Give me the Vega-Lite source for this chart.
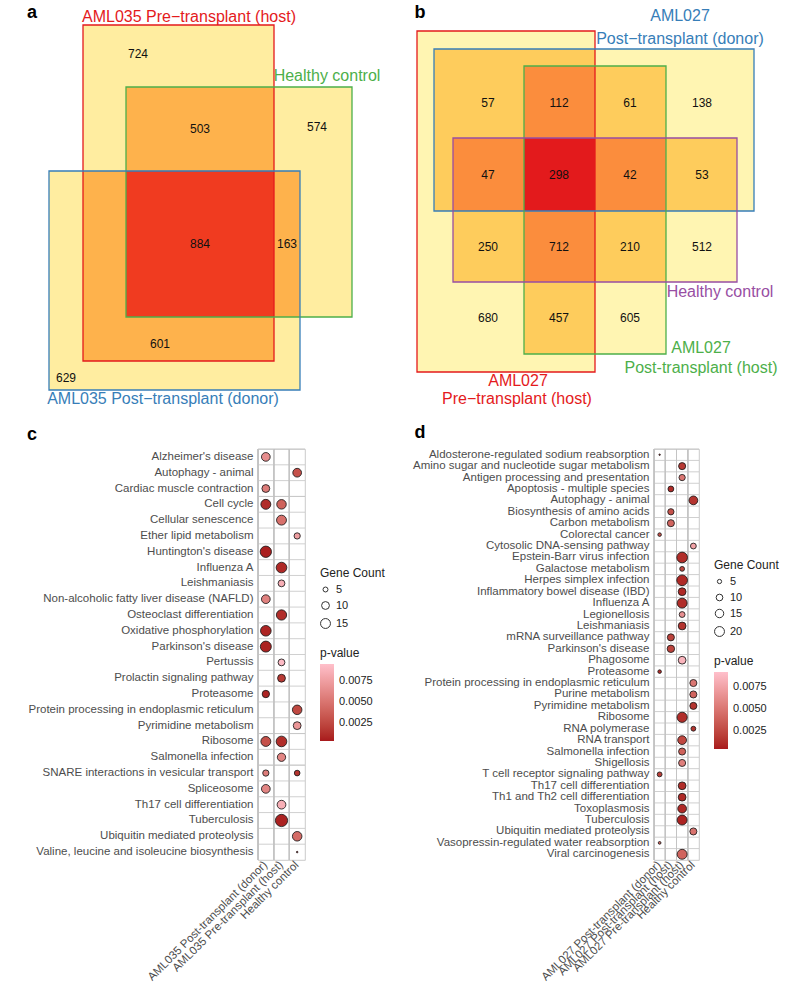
{
  "$schema": "https://vega.github.io/schema/vega-lite/v6.json",
  "background": "white",
  "padding": 0,
  "spacing": 0,
  "config": {"font": "Liberation Sans", "view": {"stroke": null}, "concat": {"spacing": 0}},
  "resolve": {
    "scale": {"color": "independent", "fill": "independent", "stroke": "independent", "size": "independent"},
    "legend": {"color": "independent", "fill": "independent", "stroke": "independent", "size": "independent"}
  },
  "datasets": {
    "venn_fill": [
      {"x1": 82, "x2": 273, "y1": 25, "y2": 361, "region": "a1"},
      {"x1": 125, "x2": 351, "y1": 87, "y2": 317, "region": "a1"},
      {"x1": 48, "x2": 299, "y1": 171, "y2": 390, "region": "a1"},
      {"x1": 125, "x2": 273, "y1": 87, "y2": 317, "region": "a2"},
      {"x1": 82, "x2": 273, "y1": 171, "y2": 361, "region": "a2"},
      {"x1": 125, "x2": 299, "y1": 171, "y2": 317, "region": "a2"},
      {"x1": 125, "x2": 273, "y1": 171, "y2": 317, "region": "a3"},
      {"x1": 416, "x2": 594, "y1": 31, "y2": 372, "region": "b1"},
      {"x1": 433, "x2": 753, "y1": 49, "y2": 211, "region": "b1"},
      {"x1": 523, "x2": 665, "y1": 66, "y2": 354, "region": "b1"},
      {"x1": 452, "x2": 736, "y1": 138, "y2": 282, "region": "b1"},
      {"x1": 433, "x2": 594, "y1": 49, "y2": 211, "region": "b2"},
      {"x1": 523, "x2": 594, "y1": 66, "y2": 354, "region": "b2"},
      {"x1": 452, "x2": 594, "y1": 138, "y2": 282, "region": "b2"},
      {"x1": 523, "x2": 665, "y1": 66, "y2": 211, "region": "b2"},
      {"x1": 452, "x2": 736, "y1": 138, "y2": 211, "region": "b2"},
      {"x1": 523, "x2": 665, "y1": 138, "y2": 282, "region": "b2"},
      {"x1": 523, "x2": 594, "y1": 66, "y2": 211, "region": "b3"},
      {"x1": 452, "x2": 594, "y1": 138, "y2": 211, "region": "b3"},
      {"x1": 523, "x2": 594, "y1": 138, "y2": 282, "region": "b3"},
      {"x1": 523, "x2": 665, "y1": 138, "y2": 211, "region": "b3"},
      {"x1": 523, "x2": 594, "y1": 138, "y2": 211, "region": "b4"}
    ],
    "venn_line": [
      {"x1": 82, "x2": 273, "y1": 25, "y2": 361, "set": "R"},
      {"x1": 125, "x2": 351, "y1": 87, "y2": 317, "set": "G"},
      {"x1": 48, "x2": 299, "y1": 171, "y2": 390, "set": "B"},
      {"x1": 416, "x2": 594, "y1": 31, "y2": 372, "set": "R"},
      {"x1": 433, "x2": 753, "y1": 49, "y2": 211, "set": "B"},
      {"x1": 523, "x2": 665, "y1": 66, "y2": 354, "set": "G"},
      {"x1": 452, "x2": 736, "y1": 138, "y2": 282, "set": "P"}
    ],
    "venn_num": [
      {"x": 137, "y": 54, "n": "724"},
      {"x": 199, "y": 129, "n": "503"},
      {"x": 316, "y": 127, "n": "574"},
      {"x": 199, "y": 244, "n": "884"},
      {"x": 286, "y": 244, "n": "163"},
      {"x": 159, "y": 344, "n": "601"},
      {"x": 65, "y": 378, "n": "629"},
      {"x": 487, "y": 103, "n": "57"},
      {"x": 558, "y": 103, "n": "112"},
      {"x": 629, "y": 103, "n": "61"},
      {"x": 701, "y": 103, "n": "138"},
      {"x": 487, "y": 175, "n": "47"},
      {"x": 558, "y": 175, "n": "298"},
      {"x": 629, "y": 175, "n": "42"},
      {"x": 701, "y": 175, "n": "53"},
      {"x": 487, "y": 247, "n": "250"},
      {"x": 558, "y": 247, "n": "712"},
      {"x": 629, "y": 247, "n": "210"},
      {"x": 701, "y": 247, "n": "512"},
      {"x": 487, "y": 318, "n": "680"},
      {"x": 558, "y": 318, "n": "457"},
      {"x": 629, "y": 318, "n": "605"}
    ],
    "venn_lab": [
      {"x": 188, "y": 17, "label": "AML035 Pre−transplant (host)", "set": "R"},
      {"x": 326, "y": 76, "label": "Healthy control", "set": "G"},
      {"x": 162, "y": 399, "label": "AML035 Post−transplant (donor)", "set": "B"},
      {"x": 679, "y": 16, "label": "AML027", "set": "B"},
      {"x": 679, "y": 39, "label": "Post−transplant (donor)", "set": "B"},
      {"x": 719, "y": 292, "label": "Healthy control", "set": "P"},
      {"x": 700, "y": 348, "label": "AML027", "set": "G"},
      {"x": 700, "y": 368, "label": "Post-transplant (host)", "set": "G"},
      {"x": 517, "y": 381, "label": "AML027", "set": "R"},
      {"x": 516, "y": 399, "label": "Pre−transplant (host)", "set": "R"}
    ],
    "letters": [
      {"x": 31, "y": 13, "t": "a"},
      {"x": 419, "y": 13, "t": "b"},
      {"x": 31, "y": 435, "t": "c"},
      {"x": 419, "y": 433, "t": "d"}
    ],
    "c_dots": [
      {"term": "Alzheimer's disease", "group": "AML035 Post-transplant (donor)", "count": 12, "p": 0.0065},
      {"term": "Autophagy - animal", "group": "Healthy control", "count": 12, "p": 0.003},
      {"term": "Cardiac muscle contraction", "group": "AML035 Post-transplant (donor)", "count": 10, "p": 0.0055},
      {"term": "Cell cycle", "group": "AML035 Post-transplant (donor)", "count": 15, "p": 0.0012},
      {"term": "Cell cycle", "group": "AML035 Pre-transplant (host)", "count": 14, "p": 0.004},
      {"term": "Cellular senescence", "group": "AML035 Pre-transplant (host)", "count": 15, "p": 0.0048},
      {"term": "Ether lipid metabolism", "group": "Healthy control", "count": 7, "p": 0.0075},
      {"term": "Huntington's disease", "group": "AML035 Post-transplant (donor)", "count": 19, "p": 0.0006},
      {"term": "Influenza A", "group": "AML035 Pre-transplant (host)", "count": 17, "p": 0.001},
      {"term": "Leishmaniasis", "group": "AML035 Pre-transplant (host)", "count": 8, "p": 0.0085},
      {"term": "Non-alcoholic fatty liver disease (NAFLD)", "group": "AML035 Post-transplant (donor)", "count": 12, "p": 0.0058},
      {"term": "Osteoclast differentiation", "group": "AML035 Pre-transplant (host)", "count": 16, "p": 0.0012},
      {"term": "Oxidative phosphorylation", "group": "AML035 Post-transplant (donor)", "count": 17, "p": 0.0008},
      {"term": "Parkinson's disease", "group": "AML035 Post-transplant (donor)", "count": 18, "p": 0.0007},
      {"term": "Pertussis", "group": "AML035 Pre-transplant (host)", "count": 8, "p": 0.0092},
      {"term": "Prolactin signaling pathway", "group": "AML035 Pre-transplant (host)", "count": 10, "p": 0.0018},
      {"term": "Proteasome", "group": "AML035 Post-transplant (donor)", "count": 9, "p": 0.0008},
      {"term": "Protein processing in endoplasmic reticulum", "group": "Healthy control", "count": 14, "p": 0.0025},
      {"term": "Pyrimidine metabolism", "group": "Healthy control", "count": 10, "p": 0.007},
      {"term": "Ribosome", "group": "AML035 Post-transplant (donor)", "count": 15, "p": 0.003},
      {"term": "Ribosome", "group": "AML035 Pre-transplant (host)", "count": 17, "p": 0.0012},
      {"term": "Salmonella infection", "group": "AML035 Pre-transplant (host)", "count": 11, "p": 0.006},
      {"term": "SNARE interactions in vesicular transport", "group": "AML035 Post-transplant (donor)", "count": 7, "p": 0.0055},
      {"term": "SNARE interactions in vesicular transport", "group": "Healthy control", "count": 6, "p": 0.0015},
      {"term": "Spliceosome", "group": "AML035 Post-transplant (donor)", "count": 12, "p": 0.006},
      {"term": "Th17 cell differentiation", "group": "AML035 Pre-transplant (host)", "count": 12, "p": 0.0085},
      {"term": "Tuberculosis", "group": "AML035 Pre-transplant (host)", "count": 22, "p": 0.0007},
      {"term": "Ubiquitin mediated proteolysis", "group": "Healthy control", "count": 14, "p": 0.0045},
      {"term": "Valine, leucine and isoleucine biosynthesis", "group": "Healthy control", "count": 2, "p": 0.0005}
    ],
    "d_dots": [
      {"term": "Aldosterone-regulated sodium reabsorption", "group": "AML027 Post-transplant (donor)", "count": 2, "p": 0.0008},
      {"term": "Amino sugar and nucleotide sugar metabolism", "group": "AML027 Pre-transplant (host)", "count": 11, "p": 0.0018},
      {"term": "Antigen processing and presentation", "group": "AML027 Pre-transplant (host)", "count": 9, "p": 0.005},
      {"term": "Apoptosis - multiple species", "group": "AML027 Post-transplant (host)", "count": 8, "p": 0.0012},
      {"term": "Autophagy - animal", "group": "Healthy control", "count": 16, "p": 0.0015},
      {"term": "Biosynthesis of amino acids", "group": "AML027 Post-transplant (host)", "count": 9, "p": 0.003},
      {"term": "Carbon metabolism", "group": "AML027 Post-transplant (host)", "count": 11, "p": 0.004},
      {"term": "Colorectal cancer", "group": "AML027 Post-transplant (donor)", "count": 4, "p": 0.003},
      {"term": "Cytosolic DNA-sensing pathway", "group": "Healthy control", "count": 8, "p": 0.0075},
      {"term": "Epstein-Barr virus infection", "group": "AML027 Pre-transplant (host)", "count": 23, "p": 0.0012},
      {"term": "Galactose metabolism", "group": "AML027 Pre-transplant (host)", "count": 6, "p": 0.0025},
      {"term": "Herpes simplex infection", "group": "AML027 Pre-transplant (host)", "count": 23, "p": 0.001},
      {"term": "Inflammatory bowel disease (IBD)", "group": "AML027 Pre-transplant (host)", "count": 13, "p": 0.001},
      {"term": "Influenza A", "group": "AML027 Pre-transplant (host)", "count": 20, "p": 0.0012},
      {"term": "Legionellosis", "group": "AML027 Pre-transplant (host)", "count": 8, "p": 0.0065},
      {"term": "Leishmaniasis", "group": "AML027 Pre-transplant (host)", "count": 13, "p": 0.0015},
      {"term": "mRNA surveillance pathway", "group": "AML027 Post-transplant (host)", "count": 11, "p": 0.0022},
      {"term": "Parkinson's disease", "group": "AML027 Post-transplant (host)", "count": 12, "p": 0.0022},
      {"term": "Phagosome", "group": "AML027 Pre-transplant (host)", "count": 13, "p": 0.0085},
      {"term": "Proteasome", "group": "AML027 Post-transplant (donor)", "count": 4, "p": 0.0012},
      {"term": "Protein processing in endoplasmic reticulum", "group": "Healthy control", "count": 11, "p": 0.005},
      {"term": "Purine metabolism", "group": "Healthy control", "count": 11, "p": 0.004},
      {"term": "Pyrimidine metabolism", "group": "Healthy control", "count": 11, "p": 0.0015},
      {"term": "Ribosome", "group": "AML027 Pre-transplant (host)", "count": 21, "p": 0.0012},
      {"term": "RNA polymerase", "group": "Healthy control", "count": 6, "p": 0.0015},
      {"term": "RNA transport", "group": "AML027 Pre-transplant (host)", "count": 16, "p": 0.0025},
      {"term": "Salmonella infection", "group": "AML027 Pre-transplant (host)", "count": 11, "p": 0.0038},
      {"term": "Shigellosis", "group": "AML027 Pre-transplant (host)", "count": 11, "p": 0.0055},
      {"term": "T cell receptor signaling pathway", "group": "AML027 Post-transplant (donor)", "count": 6, "p": 0.002},
      {"term": "Th17 cell differentiation", "group": "AML027 Pre-transplant (host)", "count": 13, "p": 0.0012},
      {"term": "Th1 and Th2 cell differentiation", "group": "AML027 Pre-transplant (host)", "count": 13, "p": 0.001},
      {"term": "Toxoplasmosis", "group": "AML027 Pre-transplant (host)", "count": 16, "p": 0.001},
      {"term": "Tuberculosis", "group": "AML027 Pre-transplant (host)", "count": 20, "p": 0.0008},
      {"term": "Ubiquitin mediated proteolysis", "group": "Healthy control", "count": 11, "p": 0.0048},
      {"term": "Vasopressin-regulated water reabsorption", "group": "AML027 Post-transplant (donor)", "count": 3, "p": 0.004},
      {"term": "Viral carcinogenesis", "group": "AML027 Pre-transplant (host)", "count": 20, "p": 0.004}
    ]
  },
  "vconcat": [
    {
      "width": 543,
      "height": 447,
      "encoding": {
        "x": {"type": "quantitative", "scale": {"domain": [257, 800], "nice": false, "zero": false}, "axis": null},
        "y": {"type": "quantitative", "scale": {"domain": [0, 447], "nice": false, "zero": false, "reverse": true}, "axis": null}
      },
      "layer": [
        {
          "data": {"name": "venn_fill"},
          "mark": {"type": "rect"},
          "encoding": {
            "x": {"field": "x1", "type": "quantitative"},
            "x2": {"field": "x2"},
            "y": {"field": "y1", "type": "quantitative"},
            "y2": {"field": "y2"},
            "fill": {"field": "region", "type": "nominal", "legend": null,
              "scale": {"domain": ["a1", "a2", "a3", "b1", "b2", "b3", "b4"], "range": ["#FFEDA0", "#FEB24C", "#F03B20", "#FFF5B2", "#FECC5C", "#FB8D3D", "#E31A1C"]}}
          }
        },
        {
          "data": {"name": "venn_line"},
          "mark": {"type": "rect", "filled": false, "strokeWidth": 1.3},
          "encoding": {
            "x": {"field": "x1", "type": "quantitative"},
            "x2": {"field": "x2"},
            "y": {"field": "y1", "type": "quantitative"},
            "y2": {"field": "y2"},
            "stroke": {"field": "set", "type": "nominal", "legend": null,
              "scale": {"domain": ["R", "G", "B", "P"], "range": ["#E41A1C", "#4DAF4A", "#377EB8", "#984EA3"]}}
          }
        },
        {
          "data": {"name": "venn_num"},
          "mark": {"type": "text", "fontSize": 12, "color": "#111111"},
          "encoding": {
            "x": {"field": "x", "type": "quantitative"},
            "y": {"field": "y", "type": "quantitative"},
            "text": {"field": "n"}
          }
        },
        {
          "data": {"name": "venn_lab"},
          "mark": {"type": "text", "fontSize": 16},
          "encoding": {
            "x": {"field": "x", "type": "quantitative"},
            "y": {"field": "y", "type": "quantitative"},
            "text": {"field": "label"},
            "color": {"field": "set", "type": "nominal", "legend": null,
              "scale": {"domain": ["R", "G", "B", "P"], "range": ["#E41A1C", "#4DAF4A", "#377EB8", "#984EA3"]}}
          }
        },
        {
          "data": {"name": "letters"},
          "mark": {"type": "text", "fontSize": 18, "fontWeight": "bold", "color": "#000000"},
          "encoding": {
            "x": {"field": "x", "type": "quantitative"},
            "y": {"field": "y", "type": "quantitative"},
            "text": {"field": "t"}
          }
        }
      ]
    },
    {
      "hconcat": [
        {
          "width": 47,
          "height": 411,
          "view": {"stroke": "#BDBDBD", "strokeWidth": 0.8},
          "data": {"name": "c_dots"},
          "layer": [
            {
              "mark": {"type": "rule", "color": "#C4C4C4", "strokeWidth": 0.8},
              "encoding": {
                "y": {"field": "term", "type": "nominal", "bandPosition": 0,
                  "sort": ["Alzheimer's disease", "Autophagy - animal", "Cardiac muscle contraction", "Cell cycle", "Cellular senescence", "Ether lipid metabolism", "Huntington's disease", "Influenza A", "Leishmaniasis", "Non-alcoholic fatty liver disease (NAFLD)", "Osteoclast differentiation", "Oxidative phosphorylation", "Parkinson's disease", "Pertussis", "Prolactin signaling pathway", "Proteasome", "Protein processing in endoplasmic reticulum", "Pyrimidine metabolism", "Ribosome", "Salmonella infection", "SNARE interactions in vesicular transport", "Spliceosome", "Th17 cell differentiation", "Tuberculosis", "Ubiquitin mediated proteolysis", "Valine, leucine and isoleucine biosynthesis"],
                  "scale": {"type": "band", "paddingInner": 0, "paddingOuter": 0}}
              }
            },
            {
              "mark": {"type": "rule", "color": "#C4C4C4", "strokeWidth": 0.8},
              "encoding": {
                "x": {"field": "group", "type": "nominal", "bandPosition": 0,
                  "sort": ["AML035 Post-transplant (donor)", "AML035 Pre-transplant (host)", "Healthy control"],
                  "scale": {"type": "band", "paddingInner": 0, "paddingOuter": 0}}
              }
            },
            {
              "mark": {"type": "point", "filled": true, "shape": "circle", "stroke": "#1A1A1A", "strokeWidth": 0.85, "opacity": 1},
              "encoding": {
                "x": {"field": "group", "type": "nominal", "title": null,
                  "sort": ["AML035 Post-transplant (donor)", "AML035 Pre-transplant (host)", "Healthy control"],
                  "scale": {"type": "band", "paddingInner": 0, "paddingOuter": 0},
                  "axis": {"orient": "bottom", "labelAngle": -45, "ticks": false, "tickSize": 0, "domain": false, "grid": false, "labelPadding": 3, "labelFontSize": 11.5, "labelColor": "#4D4D4D", "labelLimit": 0, "labelOverlap": false, "labelBound": false}},
                "y": {"field": "term", "type": "nominal", "title": null,
                  "sort": ["Alzheimer's disease", "Autophagy - animal", "Cardiac muscle contraction", "Cell cycle", "Cellular senescence", "Ether lipid metabolism", "Huntington's disease", "Influenza A", "Leishmaniasis", "Non-alcoholic fatty liver disease (NAFLD)", "Osteoclast differentiation", "Oxidative phosphorylation", "Parkinson's disease", "Pertussis", "Prolactin signaling pathway", "Proteasome", "Protein processing in endoplasmic reticulum", "Pyrimidine metabolism", "Ribosome", "Salmonella infection", "SNARE interactions in vesicular transport", "Spliceosome", "Th17 cell differentiation", "Tuberculosis", "Ubiquitin mediated proteolysis", "Valine, leucine and isoleucine biosynthesis"],
                  "scale": {"type": "band", "paddingInner": 0, "paddingOuter": 0},
                  "axis": {"orient": "left", "ticks": false, "tickSize": 0, "domain": false, "grid": false, "labelPadding": 5, "labelFontSize": 11.5, "labelColor": "#4D4D4D", "labelLimit": 0, "labelOverlap": false, "labelBound": false, "minExtent": 257, "maxExtent": 257}},
                "size": {"field": "count", "type": "quantitative",
                  "scale": {"type": "linear", "domain": [5, 15], "range": [24.5, 98.2], "zero": false, "nice": false},
                  "legend": {"orient": "none", "legendX": 62, "legendY": 119, "values": [5, 10, 15], "title": "Gene Count", "padding": 0,
                    "symbolType": "circle", "symbolFillColor": "white", "symbolStrokeColor": "#333333", "symbolStrokeWidth": 1,
                    "titleFontSize": 12, "titleFontWeight": "normal", "titleColor": "#222222", "titlePadding": 4,
                    "labelFontSize": 11, "labelColor": "#222222", "labelOffset": 5, "rowPadding": 4}},
                "fill": {"field": "p", "type": "quantitative",
                  "scale": {"domain": [0.0004, 0.0095], "range": ["#A8191C", "#FFC0CB"], "interpolate": "lab", "nice": false, "zero": false},
                  "legend": {"orient": "none", "direction": "vertical", "legendX": 62, "legendY": 199, "values": [0.0025, 0.005, 0.0075], "format": ".4f", "title": "p-value", "padding": 0,
                    "gradientLength": 77, "gradientThickness": 14, "gradientStrokeWidth": 0,
                    "titleFontSize": 12, "titleFontWeight": "normal", "titleColor": "#222222", "titlePadding": 4,
                    "labelFontSize": 11, "labelColor": "#222222", "labelOffset": 5}}
              }
            }
          ]
        },
        {
          "width": 45,
          "height": 411,
          "view": {"stroke": "#BDBDBD", "strokeWidth": 0.8},
          "data": {"name": "d_dots"},
          "layer": [
            {
              "mark": {"type": "rule", "color": "#C4C4C4", "strokeWidth": 0.8},
              "encoding": {
                "y": {"field": "term", "type": "nominal", "bandPosition": 0,
                  "sort": ["Aldosterone-regulated sodium reabsorption", "Amino sugar and nucleotide sugar metabolism", "Antigen processing and presentation", "Apoptosis - multiple species", "Autophagy - animal", "Biosynthesis of amino acids", "Carbon metabolism", "Colorectal cancer", "Cytosolic DNA-sensing pathway", "Epstein-Barr virus infection", "Galactose metabolism", "Herpes simplex infection", "Inflammatory bowel disease (IBD)", "Influenza A", "Legionellosis", "Leishmaniasis", "mRNA surveillance pathway", "Parkinson's disease", "Phagosome", "Proteasome", "Protein processing in endoplasmic reticulum", "Purine metabolism", "Pyrimidine metabolism", "Ribosome", "RNA polymerase", "RNA transport", "Salmonella infection", "Shigellosis", "T cell receptor signaling pathway", "Th17 cell differentiation", "Th1 and Th2 cell differentiation", "Toxoplasmosis", "Tuberculosis", "Ubiquitin mediated proteolysis", "Vasopressin-regulated water reabsorption", "Viral carcinogenesis"],
                  "scale": {"type": "band", "paddingInner": 0, "paddingOuter": 0}}
              }
            },
            {
              "mark": {"type": "rule", "color": "#C4C4C4", "strokeWidth": 0.8},
              "encoding": {
                "x": {"field": "group", "type": "nominal", "bandPosition": 0,
                  "sort": ["AML027 Post-transplant (donor)", "AML027 Post-transplant (host)", "AML027 Pre-transplant (host)", "Healthy control"],
                  "scale": {"type": "band", "paddingInner": 0, "paddingOuter": 0}}
              }
            },
            {
              "mark": {"type": "point", "filled": true, "shape": "circle", "stroke": "#1A1A1A", "strokeWidth": 0.85, "opacity": 1},
              "encoding": {
                "x": {"field": "group", "type": "nominal", "title": null,
                  "sort": ["AML027 Post-transplant (donor)", "AML027 Post-transplant (host)", "AML027 Pre-transplant (host)", "Healthy control"],
                  "scale": {"type": "band", "paddingInner": 0, "paddingOuter": 0},
                  "axis": {"orient": "bottom", "labelAngle": -45, "ticks": false, "tickSize": 0, "domain": false, "grid": false, "labelPadding": 3, "labelFontSize": 11.5, "labelColor": "#4D4D4D", "labelLimit": 0, "labelOverlap": false, "labelBound": false}},
                "y": {"field": "term", "type": "nominal", "title": null,
                  "sort": ["Aldosterone-regulated sodium reabsorption", "Amino sugar and nucleotide sugar metabolism", "Antigen processing and presentation", "Apoptosis - multiple species", "Autophagy - animal", "Biosynthesis of amino acids", "Carbon metabolism", "Colorectal cancer", "Cytosolic DNA-sensing pathway", "Epstein-Barr virus infection", "Galactose metabolism", "Herpes simplex infection", "Inflammatory bowel disease (IBD)", "Influenza A", "Legionellosis", "Leishmaniasis", "mRNA surveillance pathway", "Parkinson's disease", "Phagosome", "Proteasome", "Protein processing in endoplasmic reticulum", "Purine metabolism", "Pyrimidine metabolism", "Ribosome", "RNA polymerase", "RNA transport", "Salmonella infection", "Shigellosis", "T cell receptor signaling pathway", "Th17 cell differentiation", "Th1 and Th2 cell differentiation", "Toxoplasmosis", "Tuberculosis", "Ubiquitin mediated proteolysis", "Vasopressin-regulated water reabsorption", "Viral carcinogenesis"],
                  "scale": {"type": "band", "paddingInner": 0, "paddingOuter": 0},
                  "axis": {"orient": "left", "ticks": false, "tickSize": 0, "domain": false, "grid": false, "labelPadding": 5, "labelFontSize": 11.5, "labelColor": "#4D4D4D", "labelLimit": 0, "labelOverlap": false, "labelBound": false, "minExtent": 267, "maxExtent": 267}},
                "size": {"field": "count", "type": "quantitative",
                  "scale": {"type": "linear", "domain": [5, 20], "range": [18.1, 98.2], "zero": false, "nice": false},
                  "legend": {"orient": "none", "legendX": 60, "legendY": 111, "values": [5, 10, 15, 20], "title": "Gene Count", "padding": 0,
                    "symbolType": "circle", "symbolFillColor": "white", "symbolStrokeColor": "#333333", "symbolStrokeWidth": 1,
                    "titleFontSize": 12, "titleFontWeight": "normal", "titleColor": "#222222", "titlePadding": 4,
                    "labelFontSize": 11, "labelColor": "#222222", "labelOffset": 5, "rowPadding": 4}},
                "fill": {"field": "p", "type": "quantitative",
                  "scale": {"domain": [0.00045, 0.0092], "range": ["#A8191C", "#FFC0CB"], "interpolate": "lab", "nice": false, "zero": false},
                  "legend": {"orient": "none", "direction": "vertical", "legendX": 60, "legendY": 207, "values": [0.0025, 0.005, 0.0075], "format": ".4f", "title": "p-value", "padding": 0,
                    "gradientLength": 77, "gradientThickness": 14, "gradientStrokeWidth": 0,
                    "titleFontSize": 12, "titleFontWeight": "normal", "titleColor": "#222222", "titlePadding": 4,
                    "labelFontSize": 11, "labelColor": "#222222", "labelOffset": 5}}
              }
            }
          ]
        }
      ],
      "spacing": 0,
      "resolve": {
        "scale": {"fill": "independent", "size": "independent"},
        "legend": {"fill": "independent", "size": "independent"}
      }
    }
  ]
}
